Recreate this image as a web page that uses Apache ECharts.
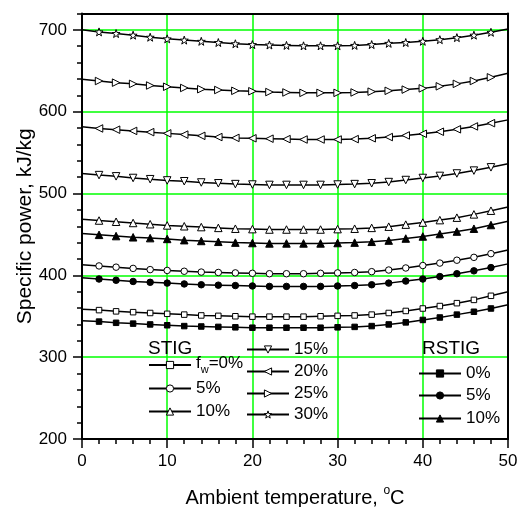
<!DOCTYPE html>
<html><head><meta charset="utf-8">
<script src="https://cdn.jsdelivr.net/npm/echarts@6/dist/echarts.min.js"></script>
<style>html,body{margin:0;padding:0;background:#fff}#c{width:521px;height:507px}</style>
</head><body><div id="c"></div>
<script>
// Ambient temperature (°C)
const temperature = [0,2,4,6,8,10,12,14,16,18,20,22,24,26,28,30,32,34,36,38,40,42,44,46,48,50];
// Specific power (kJ/kg)
const stig0  = [358.5,357.5,356,355,354,353,352,351,350.5,350,349.5,349.5,349.5,349.5,350,350.5,351,352,354,356.5,359.5,362.5,366,370,375,380];
const stig5  = [413,411.5,410,408.5,407,406,405,404,403.5,403,402.5,402,402,402,402.5,403,403.5,404.5,406.5,409,412,415,418.5,422,426.5,431];
const stig10 = [468.5,467,465.5,464,462.5,461,460,459,458,457,456.5,456,456,456,456,456.5,457,458,459.5,462,464.5,467.5,470.5,474.5,479,483.5];
const stig15 = [524.5,522.5,521,519,517.5,516,515,513.5,512.5,511.5,511,510.5,510.5,510.5,510.5,511,511.5,512.5,514,516.5,519,521.5,524.5,528,532,536.5];
const stig20 = [581.5,579.5,578,576.5,575,573.5,572,570.5,569,568,567.5,567,566.5,566,566,566,566.5,567.5,569,571,573,575.5,578.5,582,586,590];
const stig25 = [639.5,637.5,635.5,634,632,630.5,629,627.5,626.5,625.5,625,624,623.5,623,623,623,623.5,624.5,625.5,627,628.5,631,634,637.5,642,647];
const stig30 = [700,697.5,695.5,693.5,691,689,687.5,686,684.5,683,682,681.5,681,680.5,680.5,680.5,681,682,683.5,684.5,686,688,690.5,693.5,697,701];
const rstig0  = [344.5,343.5,342,341,340,339,338,337.5,337,336.5,336,336,336,336,336,336.5,337,338,340,342.5,345.5,348.5,352,355.5,359.5,364];
const rstig5  = [397,395.5,394,392.5,391.5,390.5,389.5,388.5,388,387.5,387,386.5,386.5,386.5,386.5,387,387.5,388.5,390.5,393,395.5,398.5,402,405.5,409.5,414];
const rstig10 = [451,449.5,448,446.5,445.5,444.5,443,442,441,440,439.5,439,439,439,439,439.5,440,441,442.5,445,447.5,450.5,453.5,457,461.5,466];
// Tick labels
const xTicks = [0,10,20,30,40,50];
const yTicks = [200,300,400,500,600,700];

const FONT = 'Liberation Sans';
const GREEN = '#00ff00';
const STAR = 'path://M0,-10L2.35,-3.24L9.51,-3.09L3.8,1.24L5.88,8.09L0,4L-5.88,8.09L-3.8,1.24L-9.51,-3.09L-2.35,-3.24Z';
const TRI_DOWN = 'path://M0,0L10,0L5,9Z';
const TRI_LEFT = 'path://M9,0L0,5L9,10Z';
const TRI_RIGHT = 'path://M0,0L9,5L0,10Z';

const defs = [
  {name:'STIG 0%',  data:stig0,  symbol:'rect', fill:'#fff', size:5.5, legend:[148,366]},
  {name:'STIG 5%',  data:stig5,  symbol:'circle', fill:'#fff', size:6.5, legend:[148,389]},
  {name:'STIG 10%', data:stig10, symbol:'triangle', fill:'#fff', size:7.5, legend:[148,412]},
  {name:'STIG 15%', data:stig15, symbol:TRI_DOWN, fill:'#fff', size:7.5, legend:[246,350]},
  {name:'STIG 20%', data:stig20, symbol:TRI_LEFT, fill:'#fff', size:7.5, legend:[246,372]},
  {name:'STIG 25%', data:stig25, symbol:TRI_RIGHT, fill:'#fff', size:7.5, legend:[246,394]},
  {name:'STIG 30%', data:stig30, symbol:STAR, fill:'#fff', size:8, legend:[246,415]},
  {name:'RSTIG 0%', data:rstig0, symbol:'rect', fill:'#000', size:5.5, legend:[418,374]},
  {name:'RSTIG 5%', data:rstig5, symbol:'circle', fill:'#000', size:6.5, legend:[418,396]},
  {name:'RSTIG 10%',data:rstig10,symbol:'triangle', fill:'#000', size:7.5, legend:[418,419]}
];

const series = defs.map(d => ({
  name: d.name, type: 'line', xAxisIndex: 0, yAxisIndex: 0,
  symbol: d.symbol, symbolSize: d.size, showAllSymbol: true,
  data: temperature.map((t, i) => (i === 0 || i === temperature.length - 1)
      ? {value: [t, d.data[i]], symbol: 'none'} : [t, d.data[i]]),
  lineStyle: {color: '#000', width: 1.5},
  itemStyle: {color: d.fill, borderColor: '#000', borderWidth: 1, opacity: 1},
  emphasis: {disabled: true}, z: 3
}));

const legends = defs.map(d => ({
  data: [d.name], orient: 'vertical', left: d.legend[0],
  top: d.legend[1] - (d.name === 'STIG 0%' ? 11 : 9),
  padding: 0, itemWidth: 42, itemHeight: 9, selectedMode: false,
  itemStyle: {borderWidth: 1, borderColor: '#000'},
  formatter: n => n === 'STIG 0%' ? '{n|f}{s|w}{n|=0%}' : n.split(' ')[1],
  textStyle: {fontFamily: FONT, fontSize: 17, color: '#000',
    rich: {n: {fontFamily: FONT, fontSize: 17, color: '#000', verticalAlign: 'top'},
           s: {fontFamily: FONT, fontSize: 11, color: '#000', verticalAlign: 'top', padding: [9,0,0,0]}}}
}));

const axisLine = {show: true, lineStyle: {color: '#000', width: 2}};
const option = {
  animation: false,
  backgroundColor: '#fff',
  textStyle: {fontFamily: FONT},
  grid: {left: 82, right: 13, top: 13.5, bottom: 68, containLabel: false, outerBoundsMode: 'none'},
  title: [
    {text: 'STIG', left: 148, top: 339, padding: 0, textStyle: {fontFamily: FONT, fontSize: 19, fontWeight: 'normal', color: '#000'}},
    {text: 'RSTIG', left: 422, top: 339, padding: 0, textStyle: {fontFamily: FONT, fontSize: 19, fontWeight: 'normal', color: '#000'}}
  ],
  legend: legends,
  xAxis: [
    {type: 'value', min: 0, max: 50, interval: 10, position: 'bottom',
     axisLine: axisLine,
     axisTick: {show: true, inside: false, length: 9, lineStyle: {color: '#000', width: 1.5}},
     minorTick: {show: true, splitNumber: 5, length: 5, lineStyle: {color: '#000', width: 1.5}},
     axisLabel: {fontFamily: FONT, fontSize: 17, color: '#000', margin: 14, customValues: xTicks},
     splitLine: {show: true, lineStyle: {color: GREEN, width: 1.5}},
     name: '{a|Ambient temperature, }{s|o}{a|C}', nameLocation: 'middle', nameGap: 46, nameMoveOverlap: false,
     nameTextStyle: {fontFamily: FONT, fontSize: 20, color: '#000',
       rich: {a: {fontFamily: FONT, fontSize: 20, color: '#000', verticalAlign: 'bottom'},
              s: {fontFamily: FONT, fontSize: 12, color: '#000', verticalAlign: 'top', padding: [0,0,11,0]}}}},
    {type: 'value', min: 0, max: 50, interval: 10, position: 'top', axisLine: axisLine,
     axisTick: {show: false}, axisLabel: {show: false}, splitLine: {show: false}}
  ],
  yAxis: [
    {type: 'value', min: 200, max: 720, interval: 100, position: 'left',
     axisLine: axisLine,
     axisTick: {show: true, inside: false, length: 9, lineStyle: {color: '#000', width: 1.5}, customValues: yTicks},
     axisLabel: {fontFamily: FONT, fontSize: 17, color: '#000', margin: 15, customValues: yTicks},
     splitLine: {show: true, lineStyle: {color: GREEN, width: 1.5}},
     name: 'Specific power, kJ/kg', nameLocation: 'middle', nameGap: 46, nameRotate: 90, nameMoveOverlap: false,
     nameTextStyle: {fontFamily: FONT, fontSize: 21, color: '#000'}},
    {type: 'value', min: 200, max: 720, interval: 20, position: 'left',
     axisLine: {show: false},
     axisTick: {show: true, inside: false, length: 5, lineStyle: {color: '#000', width: 1.5}},
     axisLabel: {show: false}, splitLine: {show: false}},
    {type: 'value', min: 200, max: 720, interval: 20, position: 'right', axisLine: axisLine,
     axisTick: {show: false}, axisLabel: {show: false}, splitLine: {show: false}}
  ],
  series: series
};
const chart = echarts.init(document.getElementById('c'), null, {renderer: 'canvas'});
chart.setOption(option);
</script></body></html>
